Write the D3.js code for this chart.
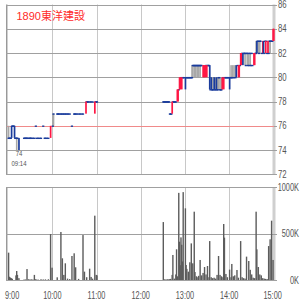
<!DOCTYPE html>
<html>
<head>
<meta charset="utf-8">
<script src="https://cdn.jsdelivr.net/npm/d3@7"></script>
<style>
  body { margin: 0; background: #fff; }
  svg { display: block; }
  .lbl { font-family: "Liberation Sans", "DejaVu Sans", sans-serif; fill: #555; }
</style>
</head>
<body>
<script>
// 1-minute candles
var priceTime = ["9:00","9:01","9:02","9:03","9:04","9:05","9:06","9:07","9:08","9:09","9:10","9:11","9:12","9:14",
  "9:21","9:22","9:23","9:24","9:25","9:26","9:28","9:29","9:30","9:31","9:33","9:35","9:37","9:38","9:40","9:42","9:44",
  "9:47","9:49","9:50","9:52","9:54","9:57","10:00","10:01",
  "10:06","10:07","10:08","10:09","10:11","10:12","10:14","10:15","10:17","10:18","10:20","10:21","10:23","10:26",
  "10:29","10:30","10:31","10:33","10:35","10:37","10:39","10:41","10:45","10:46","10:47","10:48","10:50","10:52","10:54",
  "10:57","10:58","10:59","11:00",
  "12:30","12:31","12:32","12:33","12:34","12:35","12:36","12:37","12:38","12:39","12:40","12:41","12:42",
  "12:43","12:44","12:45","12:46","12:47","12:49","12:50","12:51","12:52","12:53","12:54","12:55","12:56","12:57","12:58",
  "13:00","13:01","13:02","13:03","13:04","13:05","13:06","13:07","13:08","13:09","13:10","13:11","13:12","13:13","13:14",
  "13:15","13:16","13:17","13:18","13:19","13:20","13:21","13:22","13:24","13:25","13:26","13:27","13:28","13:29","13:30",
  "13:31","13:32","13:33","13:34","13:35","13:36","13:37","13:38","13:39","13:40","13:41","13:42","13:43","13:44","13:45",
  "13:46","13:47","13:48","13:49","13:50","13:51","13:52","13:53","13:54","13:55","13:56","13:57","13:58","13:59",
  "14:00","14:01","14:02","14:03","14:04","14:06","14:08","14:09","14:11","14:12","14:13","14:14","14:15","14:16","14:17",
  "14:18","14:19","14:20","14:21","14:22","14:23","14:24","14:25","14:26","14:27","14:28","14:29","14:30","14:31","14:33",
  "14:34","14:35","14:36","14:37","14:38","14:39","14:40","14:41","14:42","14:44","14:45","14:46","14:47","14:48","14:49",
  "14:50","14:51","14:52","14:53","14:54","14:55","14:56","14:57","14:58","14:59","15:00"];
var priceOpen = [75,75,75,75,76,76,76,76,76,75,75,75,75,75,
  75,75,75,75,75,75,75,75,75,75,75,75,76,75,75,75,75,
  76,75,75,75,75,75,76,77,
  77,77,77,77,77,77,77,77,77,77,77,77,77,76,
  77,77,77,77,77,77,77,77,77,78,78,78,78,78,78,
  77,78,78,78,
  78,78,78,78,78,78,78,78,78,77,77,77,77,
  78,78,78,78,78,78,78,79,79,79,80,79,80,80,80,
  80,80,80,80,80,80,80,80,80,80,81,81,81,81,81,
  81,81,81,81,81,81,81,81,80,80,80,80,81,80,81,
  81,81,81,79,80,79,79,79,80,79,79,80,79,79,80,
  80,79,79,79,79,80,79,80,80,80,80,80,80,80,
  80,80,80,80,80,80,80,81,81,80,80,81,81,81,82,
  82,82,82,82,81,82,82,81,82,81,82,81,82,81,81,
  81,82,82,83,83,83,82,83,83,82,82,83,82,83,82,
  83,82,82,82,83,83,83,83,83,83,83];
var priceHigh = [76,75,75,75,76,76,76,76,76,75,75,75,75,75,
  75,75,75,75,75,75,75,75,75,75,75,75,76,75,75,75,75,
  76,75,75,75,75,76,77,77,
  77,77,77,77,77,77,77,77,77,77,77,77,77,76,
  77,77,77,77,77,77,77,77,78,78,78,78,78,78,78,
  78,78,78,78,
  78,78,78,78,78,78,78,78,78,77,77,77,78,
  78,78,78,78,78,79,79,79,80,80,80,80,80,80,80,
  80,80,80,80,80,80,80,80,80,81,81,81,81,81,81,
  81,81,81,81,81,81,81,81,81,81,81,81,81,81,81,
  81,81,81,79,80,79,80,79,80,79,80,80,79,80,80,
  80,80,79,80,80,80,80,80,80,80,80,80,80,80,
  80,80,81,80,81,81,81,81,81,81,81,81,82,82,82,
  82,82,82,82,81,82,82,81,82,81,82,81,82,81,82,
  82,82,83,83,83,83,82,83,83,82,83,83,82,83,83,
  83,82,83,83,83,83,83,83,83,84,84];
var priceLow = [75,75,75,75,75,76,76,76,75,75,75,74,75,74,
  75,75,75,75,75,75,75,75,75,75,75,75,76,75,75,75,75,
  76,75,75,75,75,75,76,76,
  77,77,77,77,77,77,77,77,77,77,77,77,77,76,
  77,77,77,77,77,77,77,77,77,78,78,78,78,78,78,
  77,78,78,78,
  78,78,78,78,78,78,78,78,78,77,77,77,77,
  78,78,78,78,78,78,78,79,79,79,80,79,80,80,80,
  79,80,80,80,80,80,80,80,80,80,80,81,80,81,80,
  81,80,81,80,81,80,81,81,80,80,80,80,81,80,81,
  81,81,79,79,79,79,79,79,79,79,79,79,79,79,79,
  80,79,79,79,79,80,79,80,80,80,80,80,80,80,
  79,80,80,80,80,80,80,80,81,80,80,81,81,81,82,
  81,82,82,81,81,82,81,81,81,81,81,81,82,81,81,
  81,82,82,82,83,82,82,82,83,82,82,82,82,83,82,
  83,82,82,82,83,82,83,83,83,83,83];
var priceClose = [75,75,75,75,75,76,76,76,75,75,75,75,75,74,
  75,75,75,75,75,75,75,75,75,75,75,75,76,75,75,75,75,
  76,75,75,75,75,76,76,77,
  77,77,77,77,77,77,77,77,77,77,77,77,77,76,
  77,77,77,77,77,77,77,77,78,78,78,78,78,78,78,
  78,78,78,78,
  78,78,78,78,78,78,78,78,78,77,77,77,78,
  78,78,78,78,78,79,79,79,80,80,80,80,80,80,80,
  79,80,80,80,80,80,80,80,80,80,81,81,81,81,81,
  81,81,81,81,81,81,81,81,81,81,81,81,81,81,81,
  81,81,79,79,79,79,79,79,79,79,79,79,79,79,80,
  80,79,79,79,80,80,80,80,80,80,80,80,80,80,
  79,80,80,80,80,80,80,80,81,81,81,81,82,82,82,
  81,82,82,82,81,82,82,81,82,81,82,81,82,81,82,
  82,82,82,82,83,83,82,83,83,82,83,82,82,83,83,
  83,82,83,82,83,83,83,83,83,84,84];

// volume, thousand shares
var volTime = ["9:00","9:01","9:02","9:03","9:04","9:05","9:10","9:11","9:12","9:14","9:21","9:23","9:25","9:27","9:29",
  "9:31","9:33","9:35","9:37","9:40","9:44","9:47","9:50","9:54","9:57","9:59","10:06","10:11","10:13","10:15","10:17",
  "10:20","10:23","10:26","10:29","10:31","10:35","10:41","10:43","10:46","10:50","10:52","10:54","10:57","10:59","11:00",
  "12:30","12:32","12:34","12:36","12:38","12:40","12:42","12:43","12:45","12:47","12:48","12:49","12:51","12:52","12:53",
  "12:54","12:55","12:56","12:57","13:00","13:01","13:02","13:04","13:06","13:08","13:10","13:12","13:13","13:15","13:17",
  "13:18","13:20","13:22","13:24","13:26","13:28","13:30","13:32","13:33","13:35","13:37","13:39","13:41","13:43","13:45",
  "13:47","13:49","13:51","13:52","13:53","13:55","13:57","14:00","14:02","14:03","14:05","14:07","14:10","14:12","14:15",
  "14:17","14:19","14:21","14:23","14:26","14:28","14:30","14:32","14:34","14:36","14:37","14:39","14:41","14:43","14:45",
  "14:47","14:49","14:51","14:53","14:55","14:57","14:59"];
var volValue = [295,35,28,22,18,12,50,97,55,20,5,6,118,8,6,
  7,5,55,10,5,8,6,7,8,496,133,29,518,234,55,180,
  15,10,259,288,137,12,485,90,30,122,33,15,694,55,50,
  625,8,6,8,10,12,55,270,15,60,331,40,940,413,160,
  460,380,200,948,773,162,120,90,191,395,180,737,86,40,30,
  45,216,50,76,140,60,151,30,420,30,20,25,15,55,259,
  55,40,30,604,457,65,30,112,30,173,40,50,108,25,420,
  30,20,15,252,205,110,60,25,20,737,331,140,60,50,20,
  15,12,10,366,439,640,216];

var priceTicks = [72,74,76,78,80,82,84,86];
var volTicks = [0,500,1000];
var volTickLabels = ["0K","500K","1000K"];
var hourTicks = ["9:00","10:00","11:00","12:00","13:00","14:00","15:00"];
var prevClose = 76;
var lowLabel = {price: "74", time: "09:14", at: "9:14"};
var title = "1890東洋建設";

function mins(s) {
  var p = s.split(":");
  return (+p[0] - 9) * 60 + (+p[1]);
}

var width = 300, height = 300;

var svg = d3.select("body").append("svg")
  .attr("width", width)
  .attr("height", height);

var x = d3.scaleLinear().domain([0, 360]).range([8.1, 273.3]);
var yP = d3.scaleLinear().domain([72, 86]).range([174.3, 4.5]);
var yV = d3.scaleLinear().domain([0, 1000]).range([280, 187.3]);

function crisp(v) { return Math.round(v) + 0.5; }

// narrow text: place at (tx, ty) and squeeze horizontally
function narrow(sel, tx, ty, k) {
  return sel.attr("transform", function(d, i) {
    return "translate(" + tx(d, i) + "," + ty(d, i) + ") scale(" + k + ",1)";
  });
}

var grid = svg.append("g");

// vertical hour lines in both panels
[[yP(86), yP(72)], [yV(1000), yV(0)]].forEach(function(r) {
  grid.selectAll(null)
    .data(hourTicks.slice(1, 6))
    .enter().append("line")
    .attr("x1", function(d) { return crisp(x(mins(d))); })
    .attr("x2", function(d) { return crisp(x(mins(d))); })
    .attr("y1", r[0]).attr("y2", r[1])
    .attr("stroke", "#c8c8c8");
  // right edge (15:00), wide light line
  grid.append("rect")
    .attr("x", x(360) - 0.8).attr("width", 3)
    .attr("y", r[0]).attr("height", r[1] - r[0])
    .attr("fill", "#cfcfcf");
  // left edge
  grid.append("line")
    .attr("x1", 6.5).attr("x2", 6.5).attr("y1", r[0]).attr("y2", r[1])
    .attr("stroke", "#999");
  grid.append("line")
    .attr("x1", 7.5).attr("x2", 7.5).attr("y1", r[0]).attr("y2", r[1])
    .attr("stroke", "#d0d0d0");
});

// price horizontal lines
grid.selectAll(".pgrid")
  .data(priceTicks)
  .enter().append("line")
  .attr("class", "pgrid")
  .attr("x1", 6).attr("x2", 277)
  .attr("y1", function(d) { return crisp(yP(d)); })
  .attr("y2", function(d) { return crisp(yP(d)); })
  .attr("stroke", "#a0a0a0");

// volume horizontal lines
grid.selectAll(".vgrid")
  .data(volTicks)
  .enter().append("line")
  .attr("class", "vgrid")
  .attr("x1", 6).attr("x2", 277)
  .attr("y1", function(d) { return crisp(yV(d)); })
  .attr("y2", function(d) { return crisp(yV(d)); })
  .attr("stroke", "#a0a0a0");

// previous close line
svg.append("line")
  .attr("x1", 7).attr("x2", 274)
  .attr("y1", crisp(yP(prevClose))).attr("y2", crisp(yP(prevClose)))
  .attr("stroke", "#f08a8a");

// volume bars
svg.append("g").selectAll("rect")
  .data(volTime.map(function(t, i) { return {t: mins(t), v: volValue[i]}; }))
  .enter().append("rect")
  .attr("x", function(d) { return x(d.t) - 0.2; })
  .attr("width", 1.4)
  .attr("y", function(d) { return yV(d.v); })
  .attr("height", function(d) { return yV(0) - yV(d.v); })
  .attr("fill", "#5c5c5c");

// candles
var candles = priceTime.map(function(t, i) {
  return {t: mins(t), o: priceOpen[i], h: priceHigh[i], l: priceLow[i], c: priceClose[i]};
});

var cg = svg.append("g");

// wicks (gray)
cg.selectAll(".wick")
  .data(candles.filter(function(d) { return d.h > Math.max(d.o, d.c) || d.l < Math.min(d.o, d.c); }))
  .enter().append("rect")
  .attr("class", "wick")
  .attr("x", function(d) { return x(d.t) - 0.3; })
  .attr("width", 1.6)
  .attr("y", function(d) { return yP(d.h); })
  .attr("height", function(d) { return yP(d.l) - yP(d.h); })
  .attr("fill", "#a8a8a8");

// flat candles: short blue tick
cg.selectAll(".flat")
  .data(candles.filter(function(d) { return d.o === d.c; }))
  .enter().append("rect")
  .attr("class", "flat")
  .attr("x", function(d) { return x(d.t) - 0.6; })
  .attr("width", 2.2)
  .attr("y", function(d) { return yP(d.c) - 0.3; })
  .attr("height", 1.4)
  .attr("fill", "#1a3c9c");

// bodies
cg.selectAll(".body")
  .data(candles.filter(function(d) { return d.o !== d.c; }))
  .enter().append("rect")
  .attr("class", "body")
  .attr("x", function(d) { return x(d.t) - 0.3; })
  .attr("width", 1.7)
  .attr("y", function(d) { return yP(Math.max(d.o, d.c)); })
  .attr("height", function(d) { return Math.abs(yP(d.o) - yP(d.c)); })
  .attr("fill", function(d) { return d.c > d.o ? "#ff1744" : "#1a3c9c"; });

// price labels
narrow(svg.selectAll(".plbl")
  .data(priceTicks)
  .enter().append("text")
  .attr("class", "lbl plbl")
  .attr("font-size", "10px")
  .text(function(d) { return d; }),
  function() { return 278; }, function(d) { return yP(d) + 3.5; }, 0.78);

// volume labels
narrow(svg.selectAll(".vlbl")
  .data(volTicks)
  .enter().append("text")
  .attr("class", "lbl vlbl")
  .attr("text-anchor", "end")
  .attr("font-size", "10px")
  .text(function(d, i) { return volTickLabels[i]; }),
  function() { return 299; }, function(d) { return yV(d) + 3.5; }, 0.74);

// time labels
narrow(svg.selectAll(".tlbl")
  .data(hourTicks)
  .enter().append("text")
  .attr("class", "lbl tlbl")
  .attr("text-anchor", function(d, i) {
    return i === 0 ? "start" : (i === hourTicks.length - 1 ? "end" : "middle");
  })
  .attr("font-size", "10.5px")
  .text(function(d) { return d; }),
  function(d, i) {
    if (i === 0) return 5;
    if (i === hourTicks.length - 1) return x(mins(d)) + 8.5;
    return x(mins(d));
  },
  function() { return 299; }, 0.7);

// low annotation
var lx = x(mins(lowLabel.at)) + 0.6;
narrow(svg.append("text").attr("class", "lbl")
  .attr("text-anchor", "middle")
  .attr("font-size", "8px").text(lowLabel.price),
  function() { return lx; }, function() { return 156; }, 0.75);
narrow(svg.append("text").attr("class", "lbl")
  .attr("text-anchor", "middle")
  .attr("font-size", "8px").text(lowLabel.time),
  function() { return lx; }, function() { return 165.5; }, 0.75);

// title
svg.append("text")
  .attr("x", 16.5).attr("y", 20)
  .attr("font-family", "'Liberation Sans', 'Noto Sans CJK JP', sans-serif")
  .attr("font-size", "11px")
  .attr("fill", "#ff2a2a")
  .text(title);
</script>
</body>
</html>
